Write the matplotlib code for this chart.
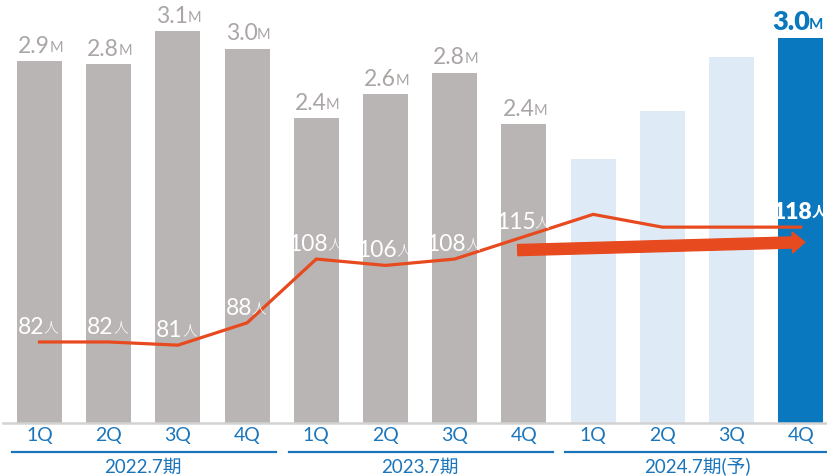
import matplotlib
matplotlib.use('Agg')
import matplotlib.pyplot as plt
import matplotlib.transforms as mtransforms
from matplotlib.patches import FancyArrowPatch

plt.rcParams['font.family'] = ['Lato', 'Noto Sans CJK JP', 'DejaVu Sans']

# Quarterly revenue (M) and headcount (people)
quarters = ['1Q', '2Q', '3Q', '4Q'] * 3
periods = ['2022.7期', '2023.7期', '2024.7期(予)']
revenue = [2.86, 2.84, 3.10, 2.96, 2.41, 2.60, 2.77, 2.36, 2.09, 2.47, 2.89, 3.04]
headcount = [82, 82, 81, 88, 108, 106, 108, 115, 122, 118, 118, 118]
labeled_revenue = [True] * 8 + [False, False, False, True]
labeled_headcount = [True] * 8 + [False, False, False, True]

GRAY = '#b9b5b4'
LIGHT_BLUE = '#deebf6'
BLUE = '#0a78be'
TEXT_BLUE = '#1b75bb'
RED = '#e84a1f'
LABEL_GRAY = '#aaa6a5'

fig = plt.figure(figsize=(8.27, 4.76), dpi=100)
ax = fig.add_axes([0, 53 / 476, 1, 423 / 476])
x = list(range(len(quarters)))

colors = [GRAY] * 8 + [LIGHT_BLUE] * 3 + [BLUE]
ax.bar(x, revenue, width=0.65, color=colors, zorder=2)
ax.set_xlim(-0.571, 11.38)
ax.set_ylim(0, 3.344)

for s in ['top', 'right', 'left']:
    ax.spines[s].set_visible(False)
ax.spines['bottom'].set_color('#d2d2d2')
ax.spines['bottom'].set_linewidth(1.8)
ax.spines['bottom'].set_bounds(-0.53, 11.38)
ax.set_yticks([])
ax.set_xticks(x)
ax.set_xticklabels(quarters, color=TEXT_BLUE, fontsize=14)
ax.tick_params(axis='x', length=0, pad=3)

# revenue labels: number followed by a small "M"
for i, (v, show) in enumerate(zip(revenue, labeled_revenue)):
    if not show:
        continue
    last = i == len(revenue) - 1
    num = ax.annotate(f'{v:.1f}', xy=(i, v), xytext=(-7 if last else -4, 3), textcoords='offset points',
                      ha='center', va='bottom', fontsize=19.5 if last else 16.5,
                      fontweight='heavy' if last else 'normal',
                      color=BLUE if last else LABEL_GRAY, zorder=5)
    ax.annotate('M', xy=(1, 0), xycoords=num, xytext=(-0.5, 1.5), textcoords='offset points',
                ha='left', va='bottom', fontsize=11 if last else 10.5,
                fontweight='bold' if last else 'normal',
                color=BLUE if last else LABEL_GRAY)

# headcount line on its own scale
ax2 = ax.twinx()
ax2.set_ylim(56.6, 189.2)
ax2.axis('off')
ax2.plot(x, headcount, color=RED, lw=2.3, zorder=3, solid_joinstyle='miter')

for i, (v, show) in enumerate(zip(headcount, labeled_headcount)):
    if not show:
        continue
    last = i == len(headcount) - 1
    num = ax2.annotate(f'{v}', xy=(i, v), xytext=(-6, 3), textcoords='offset points',
                       ha='center', va='bottom', fontsize=16.5,
                       fontweight='heavy' if last else 'normal', color='white', zorder=5)
    ax2.annotate('人', xy=(1, 0), xycoords=num, xytext=(-0.5, 2.5), textcoords='offset points',
                 ha='left', va='bottom', fontsize=10.5,
                 fontweight='bold' if last else 'light', color='white')

# growth arrow
arrow = FancyArrowPatch((6.91, 110.8), (11.06, 113.3), arrowstyle='simple,head_length=0.45,head_width=0.75,tail_width=0.4',
                        mutation_scale=20, color=RED, shrinkA=0, shrinkB=0, zorder=4)
ax2.add_patch(arrow)

# fiscal period brackets under the quarter labels
trans = mtransforms.blended_transform_factory(ax.transData, ax.transAxes)
for k, name in enumerate(periods):
    x0 = 4 * k - 0.40
    x1 = 4 * k + 3.42
    ax.plot([x0, x1], [-0.0686, -0.0686], color=TEXT_BLUE, lw=1.6, transform=trans, clip_on=False)
    ax.text(4 * k + 1.5, -0.104, name, color=TEXT_BLUE, fontsize=13.5, ha='center', va='center',
            transform=trans, clip_on=False)

fig.savefig('out.png', dpi=100)
